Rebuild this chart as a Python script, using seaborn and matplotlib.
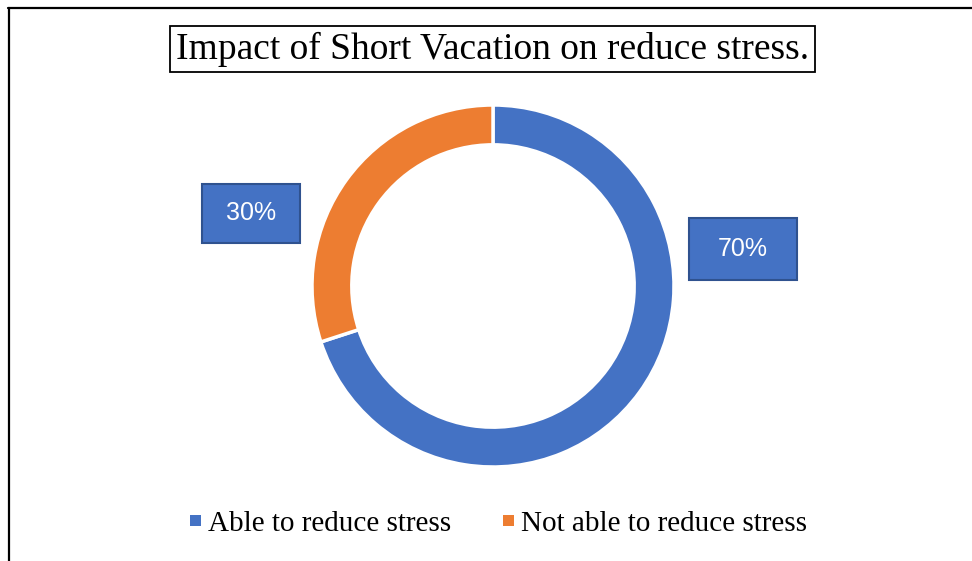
import matplotlib
matplotlib.use("Agg")
import matplotlib.pyplot as plt
from matplotlib.lines import Line2D
from matplotlib.patches import Rectangle
import seaborn as sns

categories = ["Able to reduce stress", "Not able to reduce stress"]
shares = [70, 30]
value_labels = ["70%", "30%"]
title_text = "Impact of Short Vacation on reduce stress."

sns.set_theme(style="white")
palette = sns.color_palette(["#4472C4", "#ED7D31"])

W, H = 972, 561
fig = plt.figure(figsize=(W / 100, H / 100), dpi=100)
fig.patch.set_facecolor("white")

def fx(px):
    return px / W

def fy(py):
    return 1 - py / H

# outer frame (top and left edges)
fig.add_artist(Line2D([fx(8), fx(972)], [fy(7.5), fy(7.5)], color="black", lw=1.6))
fig.add_artist(Line2D([fx(8.5), fx(8.5)], [fy(7.5), fy(561)], color="black", lw=1.6))

# donut
cx, cy, r = 493, 286, 181
ax = fig.add_axes([fx(cx - r), fy(cy + r), (2 * r) / W, (2 * r) / H])
ax.pie(shares, colors=palette, startangle=90, counterclock=False,
       radius=1.0, wedgeprops=dict(width=0.22, edgecolor="white", linewidth=2.5))
ax.set_xlim(-1, 1)
ax.set_ylim(-1, 1)
ax.set_aspect("equal")
ax.axis("off")

# title in a box
fig.text(fx(492.5), fy(49), title_text, ha="center", va="center",
         fontsize=27, family="Liberation Serif", color="black",
         bbox=dict(boxstyle="square,pad=0.15", facecolor="white",
                   edgecolor="black", linewidth=1.3))

# value callouts
boxes = [(689, 218, 108, 62), (202, 184, 98, 59)]
for (x0, y0, w, h), lab in zip(boxes, value_labels):
    fig.add_artist(Rectangle((fx(x0), fy(y0 + h)), w / W, h / H,
                             transform=fig.transFigure, facecolor="#4472C4",
                             edgecolor="#2F528F", linewidth=1.5))
    fig.text(fx(x0 + w / 2), fy(y0 + h / 2), lab, ha="center", va="center",
             fontsize=18, color="white", family="Liberation Sans")

# legend
handles = [Rectangle((0, 0), 1, 1, facecolor=c, edgecolor="none") for c in palette]
leg = fig.legend(handles, categories, loc="center", bbox_to_anchor=(fx(498.5), fy(524)),
                 ncol=2, frameon=False, handlelength=0.38, handleheight=0.21,
                 handletextpad=0.26, columnspacing=1.75, labelcolor="black",
                 prop=dict(family="Liberation Serif", size=21))

fig.savefig("out.png", dpi=100, facecolor="white")
